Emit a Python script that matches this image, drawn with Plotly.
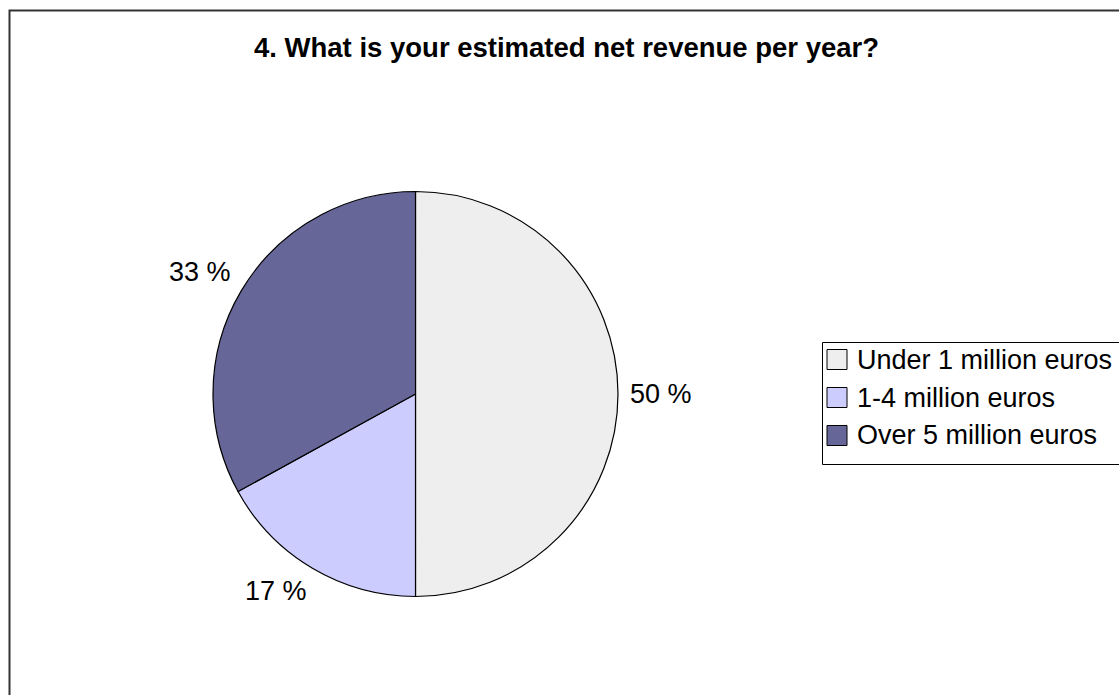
import math
import plotly.graph_objects as go

# Survey question 4: estimated net revenue per year
categories = ["Under 1 million euros", "1-4 million euros", "Over 5 million euros"]
shares = [50, 17, 33]
colors = ["#EEEEEE", "#CCCCFF", "#666699"]
title_text = "4. What is your estimated net revenue per year?"

W, H = 1119, 695
FONT = "Liberation Sans, Arial, sans-serif"

# pie placement (pixels)
cx, cy, r = 415.5, 394.0, 202.5

fig = go.Figure(
    go.Pie(
        labels=categories,
        values=shares,
        sort=False,
        direction="clockwise",
        rotation=0,
        textinfo="none",
        hoverinfo="label+value",
        marker=dict(colors=colors, line=dict(color="#000000", width=1.2)),
        domain=dict(x=[(cx - r) / W, (cx + r) / W],
                    y=[(H - cy - r) / H, (H - cy + r) / H]),
        showlegend=False,
    )
)

annotations = []
shapes = []

# percentage labels: the label box corner nearest the pie sits just outside
# the rim, along each slice's mid-angle
total = sum(shares)
cum = 0.0
gap = 13.0
half_w, half_h = 30.0, 12.0
for v in shares:
    mid = (cum + v / 2) / total * 2 * math.pi
    cum += v
    s, c = math.sin(mid), math.cos(mid)
    px = cx + (r + gap) * s
    py = cy - (r + gap) * c
    px += half_w * max(-1.0, min(1.0, 2 * s))
    py += half_h * max(-1.0, min(1.0, -2 * c))
    annotations.append(dict(
        x=px / W, y=1 - py / H, xref="paper", yref="paper",
        text=f"{v} %", showarrow=False, xanchor="center", yanchor="middle",
        font=dict(family=FONT, size=27, color="#000000"),
    ))

# title
annotations.append(dict(
    x=566.5 / W, y=1 - 48 / H, xref="paper", yref="paper",
    text=f"<b>{title_text}</b>", showarrow=False, xanchor="center", yanchor="middle",
    font=dict(family=FONT, size=27.5, color="#000000"),
))

# outer chart frame
shapes.append(dict(type="rect", xref="paper", yref="paper",
                   x0=9.5 / W, x1=1.02, y0=-0.02, y1=1 - 10.5 / H,
                   line=dict(color="#333333", width=2), fillcolor="rgba(0,0,0,0)"))

# legend box with keys
leg_left, leg_top, row_h = 822.5, 342.5, 38.0
shapes.append(dict(type="rect", xref="paper", yref="paper",
                   x0=leg_left / W, x1=1.02,
                   y0=1 - (leg_top + row_h * len(categories) + 8) / H, y1=1 - leg_top / H,
                   line=dict(color="#000000", width=1), fillcolor="#FFFFFF"))
key = 20
for i, (name, col) in enumerate(zip(categories, colors)):
    yc = leg_top + 17 + i * row_h
    shapes.append(dict(type="rect", xref="paper", yref="paper",
                       x0=827 / W, x1=(827 + key) / W,
                       y0=1 - (yc + key / 2) / H, y1=1 - (yc - key / 2) / H,
                       line=dict(color="#000000", width=1), fillcolor=col))
    annotations.append(dict(
        x=855 / W, y=1 - yc / H, xref="paper", yref="paper",
        text=name, showarrow=False, xanchor="left", yanchor="middle",
        font=dict(family=FONT, size=27, color="#000000"),
    ))

fig.update_layout(
    width=W, height=H,
    margin=dict(l=0, r=0, t=0, b=0),
    paper_bgcolor="#FFFFFF",
    plot_bgcolor="#FFFFFF",
    annotations=annotations,
    shapes=shapes,
)

fig.write_html("out.html")
